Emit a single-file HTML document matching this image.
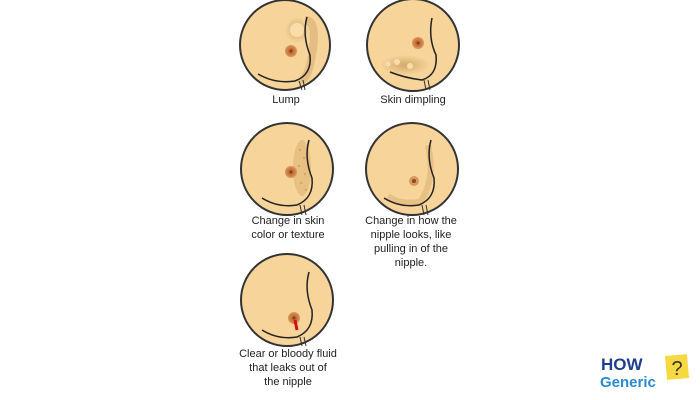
<!DOCTYPE html>
<html><head><style>body{margin:0;background:#fff}svg{display:block}</style></head><body>
<svg width="700" height="400" viewBox="0 0 700 400" font-family="Liberation Sans, sans-serif" font-size="11" fill="#222">
<defs>
<radialGradient id="sh" cx="0.5" cy="0.5" r="0.5"><stop offset="0" stop-color="#b98f4c" stop-opacity="0.6"/><stop offset="1" stop-color="#b98f4c" stop-opacity="0"/></radialGradient>
<radialGradient id="nip"><stop offset="0" stop-color="#5a2a10"/><stop offset="0.35" stop-color="#c46a35"/><stop offset="1" stop-color="#d89a5c"/></radialGradient>
</defs>
<g>
<circle cx="285" cy="45" r="45" fill="#f6d49a" stroke="#333" stroke-width="2"/>
<ellipse cx="297" cy="30" rx="12" ry="13" fill="url(#sh)"/><circle cx="297" cy="30" r="7" fill="#f8dcaa"/>
<path d="M305 20 Q318 20 312 55 Q308 80 300 80" fill="none" stroke="#c99c5c" stroke-width="8" opacity="0.4"/>
<path d="M307 17 Q302 35 310 55 Q312 75 295 81 Q275 84 258 74" fill="none" stroke="#222" stroke-width="1.5"/>
<path d="M299 81 L302 90 M303 80 L305 90" stroke="#333" stroke-width="1"/>
<circle cx="291" cy="51" r="6" fill="url(#nip)"/>
</g>
<g>
<circle cx="413" cy="45" r="46" fill="#f6d49a" stroke="#333" stroke-width="2"/>
<ellipse cx="405" cy="65" rx="25" ry="10" fill="url(#sh)"/>
<circle cx="397" cy="62" r="3" fill="#f8dcaa"/><circle cx="410" cy="66" r="3" fill="#f8dcaa"/><circle cx="388" cy="64" r="2.5" fill="#f8dcaa"/>
<path d="M432 18 Q428 38 436 55 Q438 75 422 80 Q405 78 390 72" fill="none" stroke="#222" stroke-width="1.5"/>
<path d="M424 80 L426 90 M428 80 L430 90" stroke="#333" stroke-width="1"/>
<circle cx="418" cy="43" r="6" fill="url(#nip)"/>
</g>
<g>
<circle cx="287" cy="169" r="46" fill="#f6d49a" stroke="#333" stroke-width="2"/>
<ellipse cx="302" cy="168" rx="9" ry="28" fill="#d6a964" opacity="0.45"/>
<g fill="#c7995a" opacity="0.6"><circle cx="300" cy="150" r="1.2"/><circle cx="304" cy="158" r="1.2"/><circle cx="299" cy="166" r="1.2"/><circle cx="305" cy="174" r="1.2"/><circle cx="301" cy="183" r="1.2"/><circle cx="306" cy="190" r="1.2"/></g>
<path d="M309 140 Q304 158 312 178 Q314 198 297 205 Q278 208 262 198" fill="none" stroke="#222" stroke-width="1.5"/>
<path d="M300 205 L302 215 M304 205 L306 215" stroke="#333" stroke-width="1"/>
<circle cx="291" cy="172" r="6" fill="url(#nip)"/>
</g>
<g>
<circle cx="412" cy="169" r="46" fill="#f6d49a" stroke="#333" stroke-width="2"/>
<path d="M428 145 Q436 180 420 202 Q400 205 388 196" fill="none" stroke="#c99c5c" stroke-width="6" opacity="0.35"/>
<path d="M431 140 Q426 158 434 178 Q436 198 419 205 Q400 208 384 198" fill="none" stroke="#222" stroke-width="1.5"/>
<path d="M422 205 L424 215 M426 205 L428 215" stroke="#333" stroke-width="1"/>
<circle cx="414" cy="181" r="5" fill="#d69a5c"/><circle cx="414" cy="181" r="2" fill="#8a4a20"/>
</g>
<g>
<circle cx="287" cy="300" r="46" fill="#f6d49a" stroke="#333" stroke-width="2"/>
<path d="M309 272 Q304 290 312 310 Q314 330 297 337 Q278 340 262 330" fill="none" stroke="#222" stroke-width="1.5"/>
<path d="M300 337 L302 346 M304 337 L306 346" stroke="#333" stroke-width="1"/>
<circle cx="294" cy="318" r="6" fill="url(#nip)"/>
<path d="M295 320 L297 330" stroke="#d01010" stroke-width="3"/>
</g>
<g text-anchor="middle">
<text x="286" y="103">Lump</text>
<text x="413" y="103">Skin dimpling</text>
<text x="288" y="224">Change in skin</text>
<text x="288" y="238">color or texture</text>
<text x="411" y="224">Change in how the</text>
<text x="411" y="238">nipple looks, like</text>
<text x="411" y="252">pulling in of the</text>
<text x="411" y="266">nipple.</text>
<text x="288" y="357">Clear or bloody fluid</text>
<text x="288" y="371">that leaks out of</text>
<text x="288" y="385">the nipple</text>
</g>
<rect x="666" y="355" width="22" height="24" fill="#f6d840" transform="rotate(-5 677 367)"/>
<text x="677" y="375" text-anchor="middle" font-size="20" fill="#333">?</text>
<text x="601" y="370" font-size="17" font-weight="bold" fill="#1f3f8a">HOW</text>
<text x="600" y="387" font-size="15" font-weight="bold" fill="#2b8ad0">Generic</text>
</svg>
</body></html>
